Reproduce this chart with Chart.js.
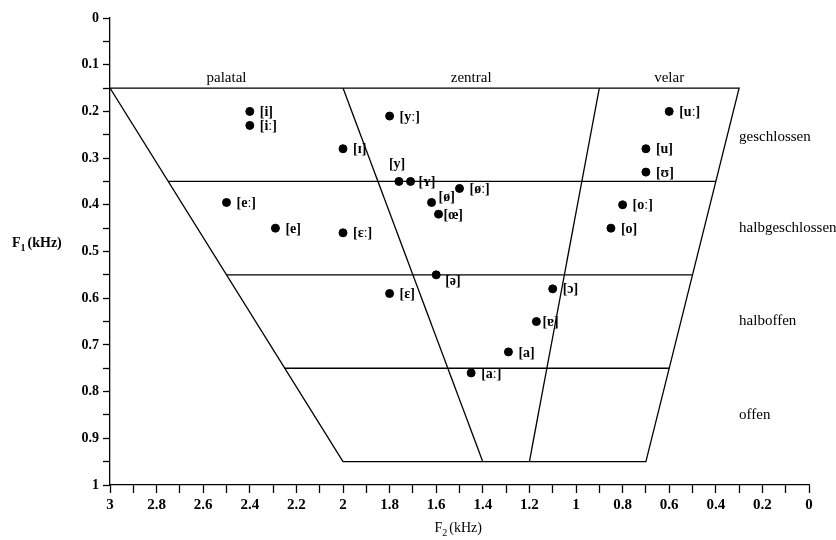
<!DOCTYPE html>
<html>
<head>
<meta charset="utf-8">
<script src="https://cdn.jsdelivr.net/npm/chart.js@4/dist/chart.umd.min.js"></script>
<style>
  html, body { margin: 0; padding: 0; background: #fff; }
  #wrap { width: 836px; height: 540px; position: relative; }
</style>
</head>
<body>
<div id="wrap"><canvas id="vowelChart"></canvas></div>
<script>
// German vowels: formant frequencies in kHz
const vowelLabels = ['[i]', '[iː]', '[yː]', '[ɪ]', '[y]', '[ʏ]', '[øː]', '[ø]', '[œ]', '[eː]', '[e]', '[ɛː]',
                     '[ə]', '[ɛ]', '[ɔ]', '[ɐ]', '[a]', '[aː]', '[uː]', '[u]', '[ʊ]', '[oː]', '[o]'];
const vowelF2 = [2.4, 2.4, 1.8, 2.0, 1.76, 1.71, 1.5, 1.62, 1.59, 2.5, 2.29, 2.0,
                 1.6, 1.8, 1.1, 1.17, 1.29, 1.45, 0.6, 0.7, 0.7, 0.8, 0.85];
const vowelF1 = [0.2, 0.23, 0.21, 0.28, 0.35, 0.35, 0.365, 0.395, 0.42, 0.395, 0.45, 0.46,
                 0.55, 0.59, 0.58, 0.65, 0.715, 0.76, 0.2, 0.28, 0.33, 0.4, 0.45];

// trapezoid outline and dividers, [F2, F1] corners
const outline = [[3, 0.15], [0.3, 0.15], [0.7, 0.95], [2, 0.95], [3, 0.15]];
const dividerFront = [[2, 0.15], [1.4, 0.95]];
const dividerBack = [[0.9, 0.15], [1.2, 0.95]];
const heightLines = [
    [[2.75, 0.35], [0.4, 0.35]],
    [[2.5, 0.55], [0.5, 0.55]],
    [[2.25, 0.75], [0.6, 0.75]]
];

// region names
const columnNames = ['palatal', 'zentral', 'velar'];
const columnF2 = [2.5, 1.45, 0.6];
const rowNames = ['geschlossen', 'halbgeschlossen', 'halboffen', 'offen'];
const rowF1 = [0.255, 0.45, 0.65, 0.85];

const SERIF = '"Liberation Serif", "DejaVu Serif", "Times New Roman", serif';

// label nudges in px where the default (right of the dot) would collide
const labelNudge = {
    '[y]': [-10, -18],
    '[ø]': [7, -6],
    '[œ]': [5, 0],
    '[ʏ]': [8, 0],
    '[ə]': [9, 6],
    '[ɐ]': [6, 0]
};

const toPoints = arr => arr.map(p => ({ x: p[0], y: p[1] }));

const lineStyle = {
    showLine: true,
    borderColor: '#000',
    borderWidth: 1.3,
    pointRadius: 0,
    fill: false
};

const datasets = [
    Object.assign({ data: toPoints(outline) }, lineStyle),
    Object.assign({ data: toPoints(dividerFront) }, lineStyle),
    Object.assign({ data: toPoints(dividerBack) }, lineStyle),
    ...heightLines.map(l => Object.assign({ data: toPoints(l) }, lineStyle)),
    {
        data: vowelF2.map((x, i) => ({ x: x, y: vowelF1[i] })),
        backgroundColor: '#000',
        borderColor: '#000',
        pointRadius: 4,
        showLine: false
    }
];

function fmt(v) {
    return String(Math.round(v * 100) / 100);
}

// draws vowel labels, region names and the axis titles
const annotations = {
    id: 'annotations',
    afterDatasetsDraw(chart) {
        const ctx = chart.ctx;
        const xs = chart.scales.x;
        const ys = chart.scales.y;
        ctx.save();
        ctx.fillStyle = '#000';

        ctx.font = 'bold 14px ' + SERIF;
        ctx.textAlign = 'left';
        ctx.textBaseline = 'middle';
        vowelLabels.forEach((lab, i) => {
            const n = labelNudge[lab] || [10, 0];
            ctx.fillText(lab, xs.getPixelForValue(vowelF2[i]) + n[0], ys.getPixelForValue(vowelF1[i]) + n[1] + 1);
        });

        ctx.font = '15px ' + SERIF;
        ctx.textAlign = 'center';
        ctx.textBaseline = 'alphabetic';
        columnNames.forEach((name, i) => {
            ctx.fillText(name, xs.getPixelForValue(columnF2[i]), ys.getPixelForValue(0.15) - 6);
        });
        ctx.textAlign = 'left';
        ctx.textBaseline = 'middle';
        rowNames.forEach((name, i) => {
            ctx.fillText(name, xs.getPixelForValue(0.3), ys.getPixelForValue(rowF1[i]));
        });

        // F1 (kHz), bold, left of the y axis
        drawSub(ctx, 'bold ', 12, 247, '1');
        // F2 (kHz), below the x axis
        const mid = (xs.left + xs.right) / 2;
        drawSub(ctx, '', mid - 25, 532, '2');
        ctx.restore();
    }
};

function drawSub(ctx, weight, x, y, sub) {
    ctx.textAlign = 'left';
    ctx.textBaseline = 'alphabetic';
    ctx.font = weight + '14px ' + SERIF;
    ctx.fillText('F', x, y);
    let w = ctx.measureText('F').width;
    ctx.font = weight + '10px ' + SERIF;
    ctx.fillText(sub, x + w, y + 4);
    w += ctx.measureText(sub).width + 2;
    ctx.font = weight + '14px ' + SERIF;
    ctx.fillText('(kHz)', x + w, y);
}

new Chart(document.getElementById('vowelChart'), {
    type: 'scatter',
    data: { datasets: datasets },
    options: {
        responsive: true,
        maintainAspectRatio: false,
        animation: false,
        layout: { padding: { top: 18, right: 27, left: 0, bottom: 0 } },
        plugins: {
            legend: { display: false },
            tooltip: { enabled: false }
        },
        scales: {
            x: {
                type: 'linear',
                reverse: true,
                min: 0,
                max: 3,
                afterFit: s => { s.height = 55; },
                border: { display: true, color: '#000', width: 1.3 },
                grid: { drawOnChartArea: false, drawTicks: true, tickLength: 8, color: '#000', tickWidth: 1.3 },
                ticks: {
                    stepSize: 0.1,
                    autoSkip: false,
                    maxRotation: 0,
                    padding: 3,
                    color: '#000',
                    font: { family: SERIF, size: 15, weight: 'bold' },
                    callback: v => (Math.round(v * 10) % 2 === 0 ? fmt(v) : '')
                }
            },
            y: {
                type: 'linear',
                reverse: true,
                min: 0,
                max: 1,
                afterFit: s => { s.width = 110; },
                border: { display: true, color: '#000', width: 1.3 },
                grid: { drawOnChartArea: false, drawTicks: true, tickLength: 7, color: '#000', tickWidth: 1.3 },
                ticks: {
                    stepSize: 0.05,
                    autoSkip: false,
                    padding: 4,
                    color: '#000',
                    font: { family: SERIF, size: 14, weight: 'bold' },
                    callback: v => (Math.round(v * 20) % 2 === 0 ? fmt(v) : '')
                }
            }
        }
    },
    plugins: [annotations]
});
</script>
</body>
</html>
